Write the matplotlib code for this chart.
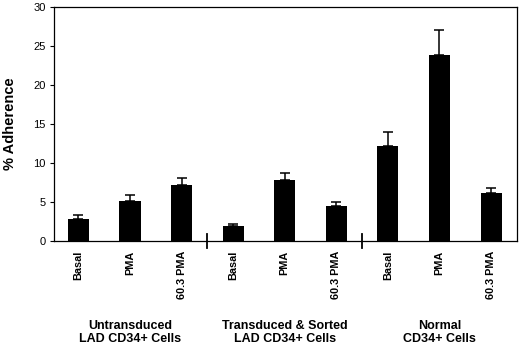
import matplotlib.pyplot as plt
import numpy as np

plt.rcParams['font.family'] = ['Liberation Sans', 'DejaVu Sans']

# treatments per group and group names
conditions = ["Basal", "PMA", "60.3 PMA"] * 3
groups = ["Untransduced\nLAD CD34+ Cells",
          "Transduced & Sorted\nLAD CD34+ Cells",
          "Normal\nCD34+ Cells"]

# % adherence (mean) and upper error
adherence = [2.9, 5.1, 7.25, 2.0, 7.8, 4.45, 12.2, 23.8, 6.2]
err = [0.4, 0.8, 0.8, 0.15, 0.9, 0.55, 1.8, 3.25, 0.55]

x = np.arange(len(adherence))

fig = plt.figure(figsize=(5.2, 3.45), dpi=100)
ax = fig.add_axes([0.104, 0.301, 0.890, 0.679])

ax.bar(x, adherence, width=0.41, color="black")
ax.errorbar(x, adherence, yerr=[np.zeros(len(err)), err], fmt="none",
            ecolor="black", elinewidth=1.1, capsize=3.5, capthick=1.1)

ax.set_xlim(-0.47, 8.5)
ax.set_ylim(0, 30)
ax.set_yticks([0, 5, 10, 15, 20, 25, 30])
ax.tick_params(axis="y", labelsize=8, length=3, width=0.8, pad=3)
ax.set_ylabel("% Adherence", fontsize=10.5, fontweight="bold", labelpad=12)

# no x tick marks, only rotated condition labels
ax.set_xticks(x)
ax.set_xticklabels(conditions, rotation=90, fontsize=7.8, fontweight="bold",
                   va="top")
ax.tick_params(axis="x", length=0, pad=7)

# separators between groups crossing the axis
for sep in [2.5, 5.5]:
    ax.plot([sep, sep], [-0.03, 0.03], transform=ax.get_xaxis_transform(),
            color="black", lw=1.3, clip_on=False)

for i, g in enumerate(groups):
    ax.text(3 * i + 1, -0.338, g, transform=ax.get_xaxis_transform(),
            ha="center", va="top", fontsize=9, fontweight="bold",
            linespacing=1.1)

for s in ax.spines.values():
    s.set_linewidth(0.9)

fig.savefig("out.png", dpi=100)
